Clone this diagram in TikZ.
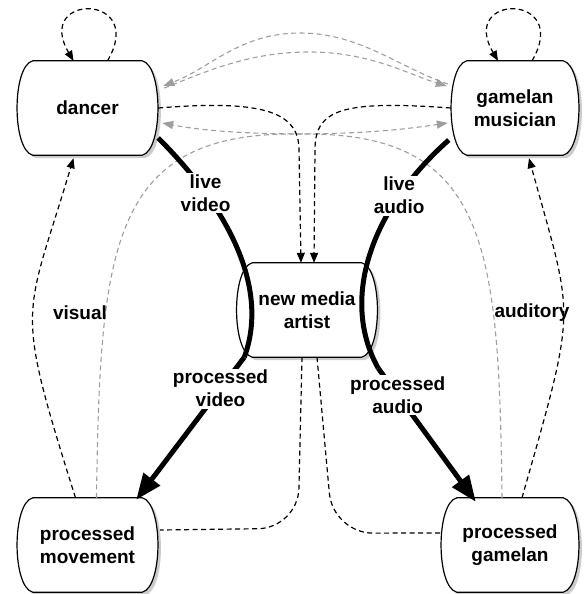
\documentclass[tikz,border=0pt]{standalone}
\usepackage{fontspec}
\setmainfont{Liberation Sans}
\usetikzlibrary{arrows.meta,calc}
\pgfdeclarelayer{bg}
\pgfsetlayers{bg,main}
\tikzset{
  box/.style={inner sep=0pt, align=center, font=\fontsize{19}{23}\selectfont\bfseries},
  txt/.style={inner sep=0pt, align=center, font=\fontsize{19}{23}\selectfont\bfseries},
  lbl/.style={fill=white, inner sep=1.5pt, align=center, font=\fontsize{19}{23}\selectfont\bfseries},
  dsh/.style={draw=black, line width=1.2pt, dash pattern=on 5pt off 3.5pt},
  gdsh/.style={draw=black!38, line width=1.1pt, dash pattern=on 5pt off 3.5pt},
  dtip/.style={-{Triangle[length=10pt,width=8pt]}},
  gtip/.style={-{Triangle[length=11pt,width=8pt]}},
  thickline/.style={draw=black, line width=5pt},
  thickarrow/.style={draw=black, line width=5pt, -{Triangle[length=26pt,width=20pt]}},
  shade/.style={fill=black!20},
  outline/.style={fill=white, draw=black, line width=1.2pt},
}
\begin{document}
\begin{tikzpicture}[x=1pt,y=-1pt]
\useasboundingbox (0,0) rectangle (584,594);

% nodes
\node[box, minimum width=141pt, minimum height=94pt] (dancer) at (87.5,108) {dancer};
\node[box, minimum width=128pt, minimum height=94pt] (gam) at (515,108) {gamelan\\musician};
\node[box, minimum width=141pt, minimum height=94pt] (nma) at (307,310) {new media\\artist};
\node[box, minimum width=141pt, minimum height=94pt] (pm) at (87.5,545) {processed\\movement};
\node[box, minimum width=138pt, minimum height=94pt] (pg) at (510,545) {processed\\gamelan};

\begin{pgfonlayer}{bg}
\foreach \n in {dancer,gam,nma,pm,pg}{
  \fill[shade] ($(\n.north west)+(19,3)$) -- ($(\n.north east)+(-13,3)$)
    .. controls ($(\n.north east)+(8,8)$) and ($(\n.south east)+(8,-2)$) ..
    ($(\n.south east)+(-13,3)$) -- ($(\n.south west)+(19,3)$)
    .. controls ($(\n.south west)+(-2,-2)$) and ($(\n.north west)+(-2,8)$) .. cycle;
  \path[outline] ($(\n.north west)+(16,0)$) -- ($(\n.north east)+(-16,0)$)
    .. controls ($(\n.north east)+(5,5)$) and ($(\n.south east)+(5,-5)$) ..
    ($(\n.south east)+(-16,0)$) -- ($(\n.south west)+(16,0)$)
    .. controls ($(\n.south west)+(-5,-5)$) and ($(\n.north west)+(-5,5)$) .. cycle;
}
\end{pgfonlayer}

% self loops
\draw[dsh,dtip] ([shift={(20,0)}]dancer.north) .. controls +(40,-68) and +(-40,-68) .. ([shift={(-14,0)}]dancer.north);
\draw[dsh,dtip] ([shift={(17,0)}]gam.north) .. controls +(40,-68) and +(-40,-68) .. ([shift={(-17,0)}]gam.north);

% gray arcs between dancer and gamelan musician
\draw[gdsh,gtip] ([shift={(-3,-24)}]gam.west) .. controls (400,68) and (360,33) .. (300,33) .. controls (240,33) and (210,68) .. ([shift={(5,-22)}]dancer.east);
\draw[gdsh,gtip] ([shift={(6,-20)}]dancer.east) .. controls (210,70) and (250,52) .. (310,52) .. controls (370,52) and (410,75) .. ([shift={(-4,-22)}]gam.west);

% gray long feedback
\draw[gdsh,gtip] ([shift={(9,0)}]pm.north) .. controls (100,250) and (110,135) .. (290,134) .. controls (360,134) and (400,130) .. ([shift={(-3,15)}]gam.west);
\draw[gdsh,gtip] ([shift={(-8,0)}]pg.north) .. controls (499,250) and (489,135) .. (309,134) .. controls (239,134) and (199,130) .. ([shift={(4,15)}]dancer.east);

% black dashed into new media artist
\draw[dsh,dtip] (dancer.east) .. controls +(100,-8) and +(0,-40) .. ([shift={(-8,-113)}]nma.north) -- ([shift={(-6,0)}]nma.north);
\draw[dsh,dtip] (gam.west) .. controls +(-110,-8) and +(0,-40) .. ([shift={(8,-113)}]nma.north) -- ([shift={(7,0)}]nma.north);

% new media artist to processed nodes
\draw[dsh, rounded corners=40pt] ([shift={(-5,0)}]nma.south) -- ([shift={(-9,171)}]nma.south) -- ([shift={(2,-15)}]pm.east);
\draw[dsh, rounded corners=40pt] ([shift={(10,0)}]nma.south) -- ([shift={(26,176)}]nma.south) -- ([shift={(0,-12)}]pg.west);

% visual / auditory
\draw[dsh,dtip] ([shift={(-12,0)}]pm.north) .. controls +(-62,-197) and +(-49,164) .. ([shift={(-14,3)}]dancer.south);
\draw[dsh,dtip] ([shift={(12,0)}]pg.north) .. controls +(56,-197) and +(45,164) .. ([shift={(14,3)}]gam.south);
\node[txt] (visual) at (80,313) {visual};
\node[txt] (auditory) at (532,313) {auditory};

% thick flows
\coordinate (lv) at ([shift={(8,0)}]nma.south west);
\coordinate (ra) at ([shift={(0.5,11)}]nma.south east);
\draw[thickline] ([shift={(0,30)}]dancer.east) .. controls +(72,72) and +(25,-68) .. (lv) node[lbl,pos=0.25] (lvlbl) {live\\video};
\draw[thickarrow] (lv) -- ([shift={(-22,2)}]pm.north east) node[lbl,pos=0.22] (pvlbl) {processed\\video};
\draw[thickline] ([shift={(-2,32)}]gam.west) .. controls +(-79,70) and +(-38,-68) .. (ra) node[lbl,pos=0.25] (lalbl) {live\\audio};
\draw[thickarrow] (ra) -- ([shift={(35,4)}]pg.north west) node[lbl,pos=0.2] (palbl) {processed\\audio};
\end{tikzpicture}
\end{document}
